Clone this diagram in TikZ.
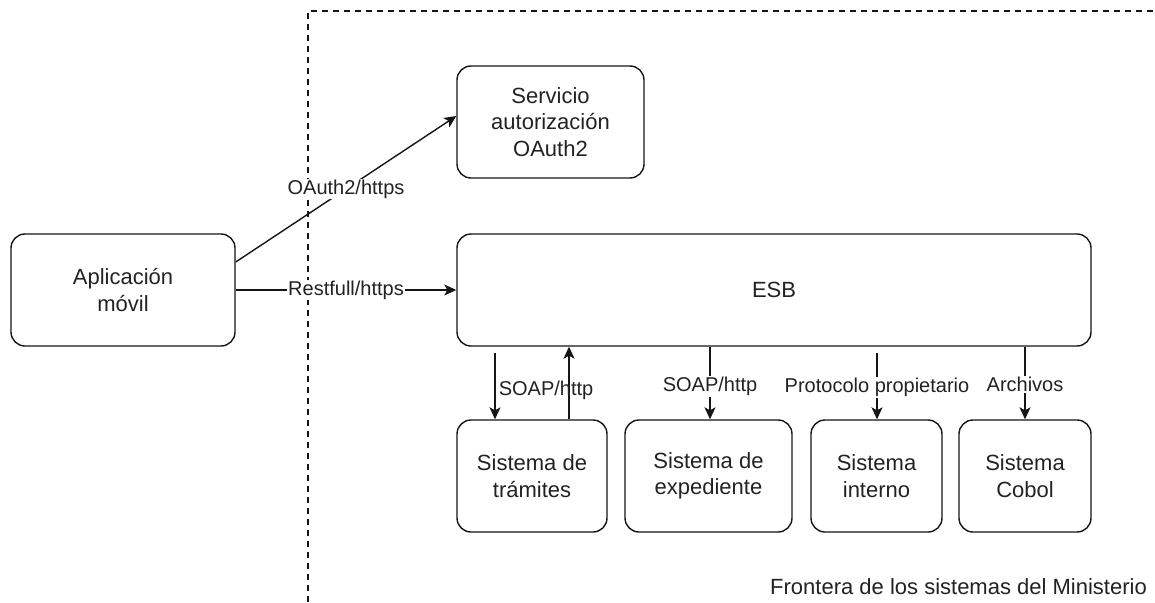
\documentclass[tikz,border=0pt]{standalone}
\usepackage{fontspec}
\setmainfont{Liberation Sans}
\usetikzlibrary{arrows.meta,calc}
\definecolor{txt}{HTML}{222222}
\definecolor{ln}{HTML}{151515}
\tikzset{
  box/.style={draw=ln, line width=1.4pt, rounded corners=14pt, minimum height=112pt,
    align=center, text=txt, inner sep=2pt, font=\fontsize{22}{26.4}\selectfont},
  arr/.style={draw=ln, line width=1.4pt, -{Stealth[length=12pt,width=11pt,inset=3pt]}},
  lbl/.style={text=txt, inner sep=1pt, font=\fontsize{20}{24}\selectfont},
  wlbl/.style={lbl, fill=white},
  border/.style={draw=ln, line width=1.3pt, dash pattern=on 6pt off 5pt}
}
\begin{document}
\begin{tikzpicture}[x=1pt,y=-1pt]
\useasboundingbox (0,0) rectangle (1155,602);
% boundary
\coordinate (b1) at (308,602);
\coordinate (b2) at (308,11);
\coordinate (b3) at (1155,11);
\draw[border] (b1) -- (b2) -- (b3);
% nodes
\node[box, minimum width=224pt] (app) at (123,290) {Aplicación\\móvil};
\node[box, minimum width=187pt] (oauth) at (550.5,122) {Servicio\\autorización\\OAuth2};
\node[box, minimum width=634pt] (esb) at (774,290) {ESB};
\node[box, minimum width=150pt] (tram) at (532,476) {Sistema de\\trámites};
\node[box, minimum width=167pt] (exped) at (708.5,476) {Sistema de\\expediente};
\node[box, minimum width=131pt] (interno) at (876.5,476) {Sistema\\interno};
\node[box, minimum width=132pt] (cobol) at (1025,476) {Sistema\\Cobol};
% connectors
\draw[arr] ([yshift=28pt]app.east) -- node[wlbl, pos=0.5] {OAuth2/https} ([yshift=6pt]oauth.west);
\draw[arr] (app.east) -- node[wlbl] {Restfull/https} (esb.west);
\coordinate (td) at (495,353);
\draw[arr] (td) -- (td |- tram.north);
\draw[arr] ([xshift=37pt]tram.north) -- node[lbl, pos=0.405, xshift=-23pt] {SOAP/http} ([xshift=37pt]tram.north |- esb.south);
\draw[arr] ([xshift=1.5pt]exped.north |- esb.south) -- node[wlbl, pos=0.55] {SOAP/http} ([xshift=1.5pt]exped.north);
\coordinate (ti) at (877,353);
\draw[arr] (ti) -- node[wlbl, pos=0.52] {Protocolo propietario} (ti |- interno.north);
\draw[arr] (cobol.north |- esb.south) -- node[wlbl, pos=0.52] {Archivos} (cobol.north);
% boundary caption
\node[text=txt, inner sep=0pt, font=\fontsize{22}{26.4}\selectfont] (front) at (958.5,587) {Frontera de los sistemas del Ministerio};
\end{tikzpicture}
\end{document}
